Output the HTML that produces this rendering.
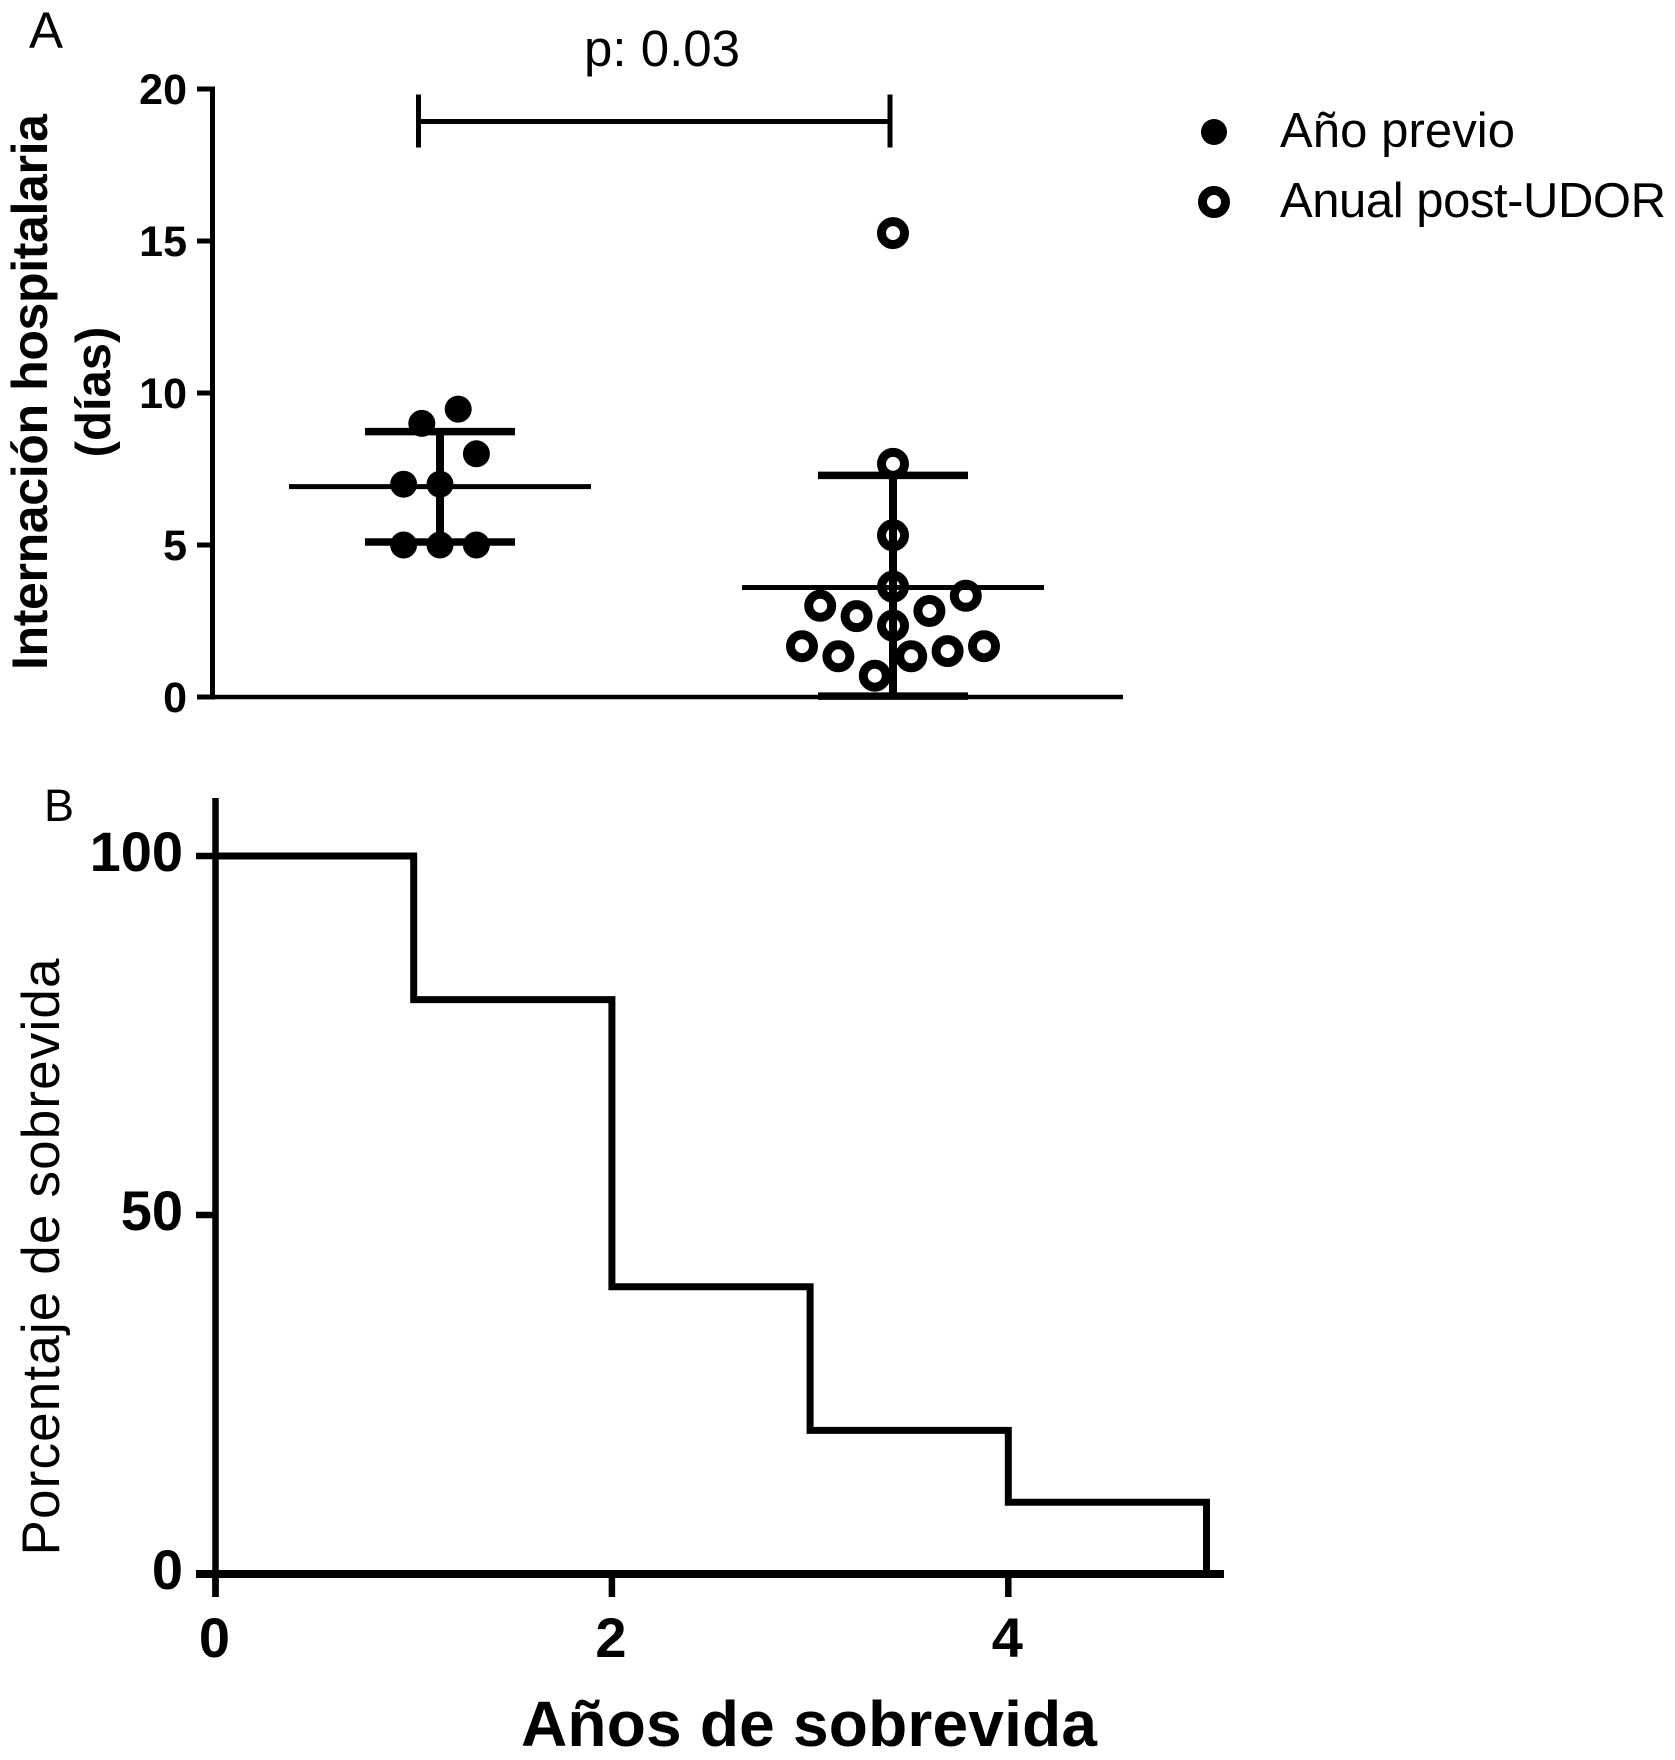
<!DOCTYPE html>
<html lang="es">
<head>
<meta charset="utf-8">
<title>Internación hospitalaria y sobrevida</title>
<style>
html,body{margin:0;padding:0;background:#fff;}
svg{display:block;}
text{font-family:"Liberation Sans",sans-serif;fill:#000;}
.b{font-weight:bold;}
</style>
</head>
<body>
<svg id="fig" xmlns="http://www.w3.org/2000/svg" width="1675" height="1760" viewBox="0 0 1675 1760">
  <rect width="1675" height="1760" fill="#fff"/>
  <g id="panelA"></g>
  <g id="panelB"></g>

  <text x="29" y="48" font-size="51">A</text>
  <text x="584" y="66" font-size="51" textLength="156">p: 0.03</text>
  <text class="b" font-size="50" text-anchor="middle" textLength="556" transform="translate(47,392) rotate(-90)">Internación hospitalaria</text>
  <text class="b" font-size="49" text-anchor="middle" transform="translate(110,392) rotate(-90)">(días)</text>

  <g>
    <circle cx="1214" cy="132" r="13" fill="#000"/>
    <text x="1280" y="147" font-size="49" textLength="235">Año previo</text>
    <circle cx="1214" cy="202" r="11.5" fill="none" stroke="#000" stroke-width="9"/>
    <text x="1280" y="217" font-size="49" textLength="386">Anual post-UDOR</text>
  </g>

  <text x="44" y="821" font-size="45">B</text>
  <text font-size="53" text-anchor="middle" textLength="597" transform="translate(59,1257) rotate(-90)">Porcentaje de sobrevida</text>
  <text class="b" x="521" y="1746" font-size="64" textLength="576">Años de sobrevida</text>
</svg>

<script>
// Panel A: hospital stay
const yTicksA = [0, 5, 10, 15, 20];
const groupCenters = [0, 1];
const group1Values = [9.47, 9.0, 8.0, 7.0, 7.0, 5.0, 5.0, 5.0];
const group1Slots = [1, -1, 2, -2, 0, -2, 0, 2];
const group2Values = [15.26, 7.67, 5.32, 3.63, 3.33, 3.0, 2.83, 2.66, 2.35, 1.67, 1.67, 1.34, 1.34, 1.51, 0.7];
const group2Slots = [0, 0, 0, 0, 4, -4, 2, -2, 0, -5, 5, -3, 1, 3, -1];
const groupMeans = [6.92, 3.6];
const groupUpper = [8.73, 7.29];
const groupLower = [5.1, 0.03];
const bracketLevel = 18.93;

// Panel B: survival curve
const survivalYears = [0, 1, 2, 3, 4, 5];
const survivalPercent = [100, 80, 40, 20, 10, 0];
const yTicksB = [0, 50, 100];
const xTicksB = [0, 2, 4];

const NS = 'http://www.w3.org/2000/svg';
const panelA = document.getElementById('panelA');
const panelB = document.getElementById('panelB');

function yA(v) { return 697 - v * 30.4; }
function xGroup(g) { return 440 + g * 453; }
function xSwarm(g, slot) { return xGroup(g) + slot * 18.2; }
function yB(v) { return 1574 - v * 7.18; }
function xB(v) { return 215.5 + v * 198.2; }

function make(tag, attrs, parent) {
  const el = document.createElementNS(NS, tag);
  for (const k in attrs) el.setAttribute(k, attrs[k]);
  parent.appendChild(el);
  return el;
}
function seg(x1, y1, x2, y2, w, parent) {
  return make('line', {x1: x1, y1: y1, x2: x2, y2: y2, stroke: '#000', 'stroke-width': w}, parent);
}
let el;

// Panel A axes
el = seg(212.5, yA(20) - 2.5, 212.5, yA(0) + 2.5, 5, panelA);


el = seg(197, yA(0), 1123, yA(0), 4.5, panelA);


yTicksA.forEach(function (t) {
  let m = seg(197, yA(t), 213, yA(t), 5, panelA);
  
  
  m = make('text', {x: 187, y: yA(t) + 15, 'font-size': 43, 'text-anchor': 'end', 'class': 'b'}, panelA);
  
  
  m.textContent = String(t);
});

// Significance bracket
el = seg(xGroup(0) - 21, yA(bracketLevel), xGroup(1) - 3, yA(bracketLevel), 5, panelA);


el = seg(xGroup(0) - 21.5, yA(bracketLevel) - 27, xGroup(0) - 21.5, yA(bracketLevel) + 26, 5, panelA);


el = seg(xGroup(1) - 3, yA(bracketLevel) - 27, xGroup(1) - 3, yA(bracketLevel) + 26, 5, panelA);



// Mean and error bars
groupCenters.forEach(function (g, i) {
  const c = xGroup(g);
  let m = seg(c - 151, yA(groupMeans[i]), c + 151, yA(groupMeans[i]), 5, panelA);
  
  
  m = seg(c, yA(groupUpper[i]), c, yA(groupLower[i]), 8, panelA);
  
  
  m = seg(c - 75, yA(groupUpper[i]), c + 75, yA(groupUpper[i]), 7.5, panelA);
  
  
  m = seg(c - 75, yA(groupLower[i]), c + 75, yA(groupLower[i]), 7.5, panelA);
  
  
});

// Points
group1Values.forEach(function (v, i) {
  const p = make('circle', {cx: xSwarm(0, group1Slots[i]), cy: yA(v), r: 13.5, fill: '#000'}, panelA);
  
  
});
group2Values.forEach(function (v, i) {
  const p = make('circle', {cx: xSwarm(1, group2Slots[i]), cy: yA(v), r: 11.5, fill: 'none', stroke: '#000', 'stroke-width': 9}, panelA);
  
  
});

// Panel B axes
el = seg(215.5, 798, 215.5, 1597, 6.5, panelB);


el = seg(196, yB(0), 1224, yB(0), 8, panelB);


yTicksB.forEach(function (t) {
  let m = seg(196, yB(t), 216, yB(t), 6.5, panelB);
  
  
  m = make('text', {x: 183, y: yB(t) + 15, 'font-size': 56, 'text-anchor': 'end', 'class': 'b'}, panelB);
  
  
  m.textContent = String(t);
});
xTicksB.forEach(function (t) {
  let m = seg(xB(t), yB(0), xB(t), 1597, 6.5, panelB);
  
  
  m = make('text', {x: xB(t) - 1, y: 1657, 'font-size': 56, 'text-anchor': 'middle', 'class': 'b'}, panelB);
  
  
  m.textContent = String(t);
});

// Survival step curve
let d = 'M' + xB(survivalYears[0]) + ' ' + yB(survivalPercent[0]);
for (let i = 1; i < survivalYears.length; i++) {
  d += ' H' + xB(survivalYears[i]) + ' V' + yB(survivalPercent[i]);
}
el = make('path', {d: d, fill: 'none', stroke: '#000', 'stroke-width': 7, 'stroke-linejoin': 'miter'}, panelB);


</script>
</body>
</html>
